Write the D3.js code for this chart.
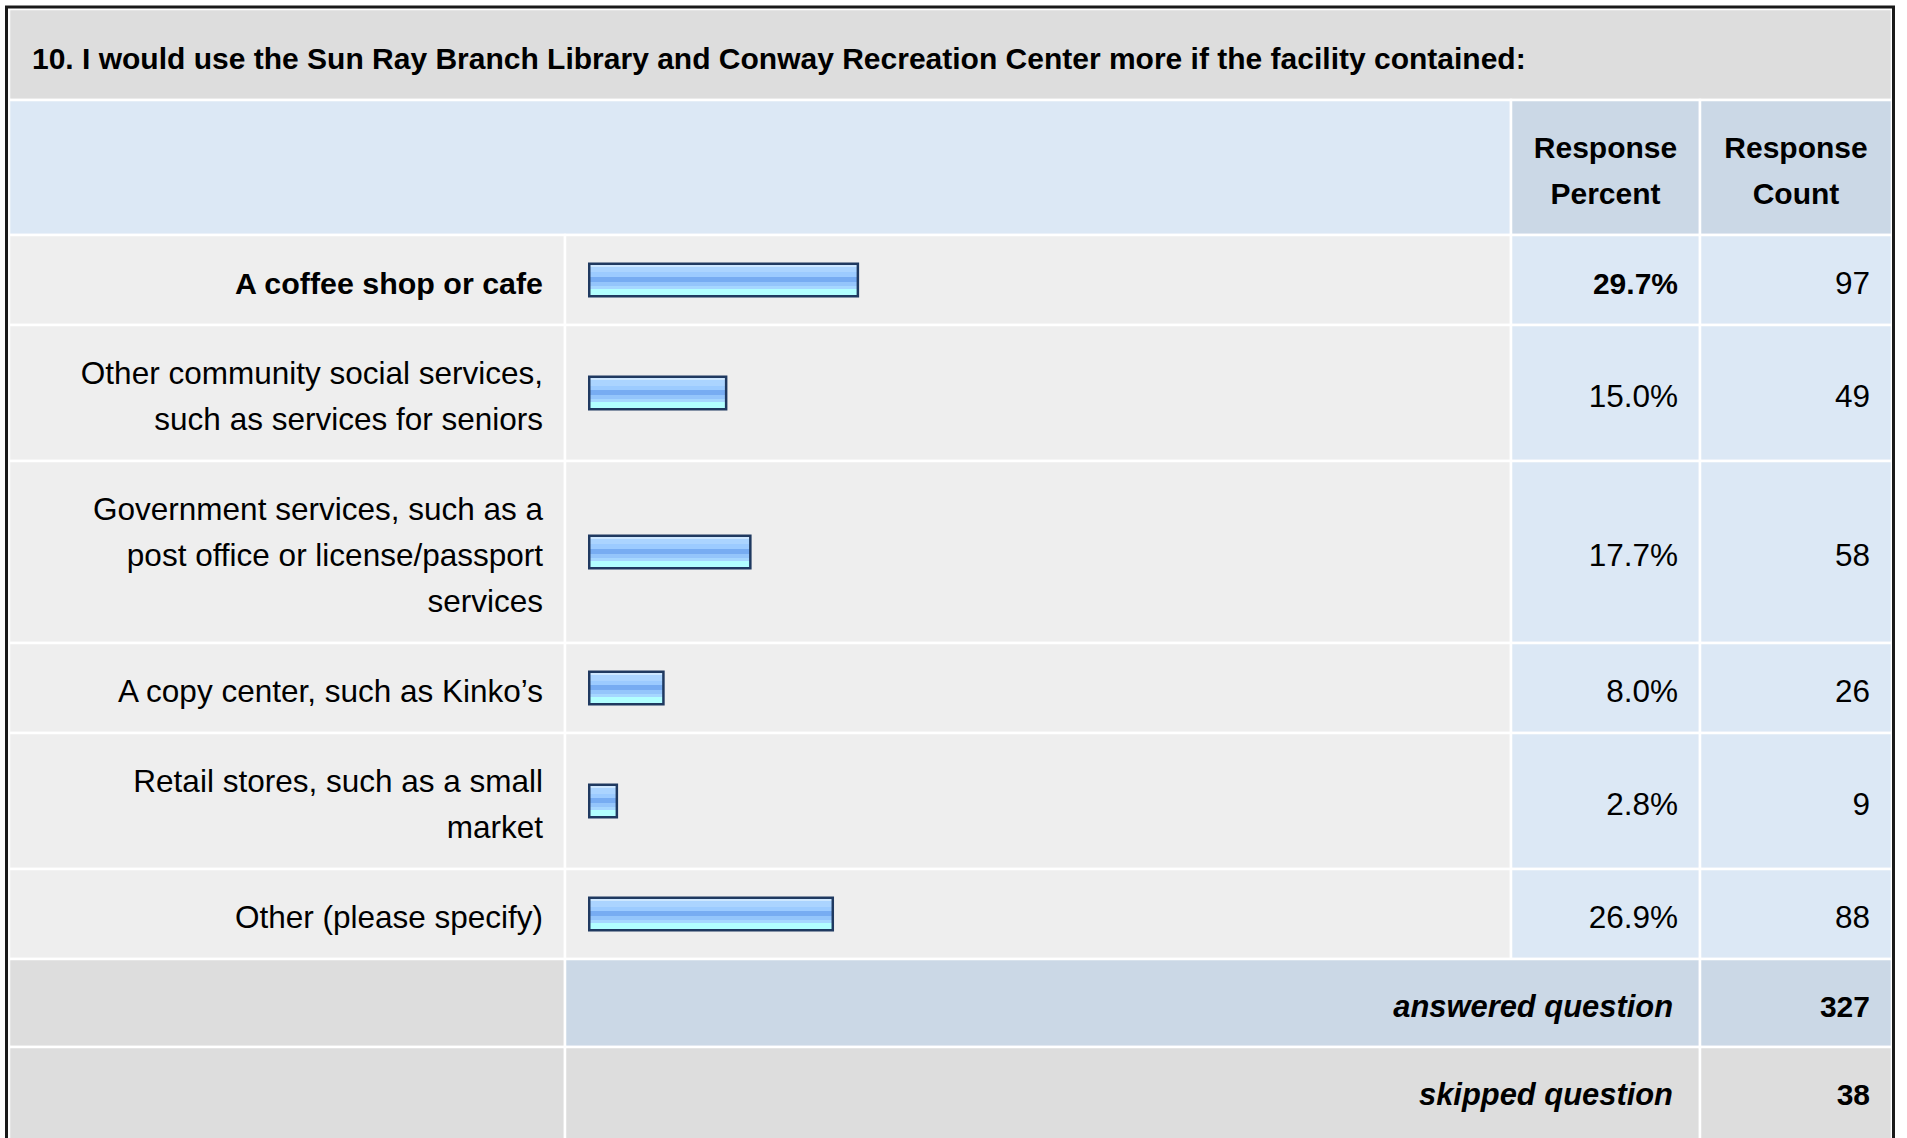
<!DOCTYPE html>
<html>
<head>
<meta charset="utf-8">
<script src="https://cdn.jsdelivr.net/npm/d3@7"></script>
<style>
body { margin: 0; background: #fff; }
svg text { font-family: "Liberation Sans", Arial, Helvetica, sans-serif; fill: #000; }
</style>
</head>
<body>
<svg id="chart" width="1907" height="1138"></svg>
<script>
// Data
var title = "10. I would use the Sun Ray Branch Library and Conway Recreation Center more if the facility contained:";
var headers = ["Response\nPercent", "Response\nCount"];
var categories = [
    "A coffee shop or cafe",
    "Other community social services,\nsuch as services for seniors",
    "Government services, such as a\npost office or license/passport\nservices",
    "A copy center, such as Kinko\u2019s",
    "Retail stores, such as a small\nmarket",
    "Other (please specify)"
];
var percents = [29.7, 15.0, 17.7, 8.0, 2.8, 26.9];
var counts = [97, 49, 58, 26, 9, 88];
var summaryLabels = ["answered question", "skipped question"];
var summaryValues = [327, 38];

// Layout
var W = 1907, H = 1138;
var left = 9, right = 1892;
var colLabel = 565, colBar = 1511, colPct = 1700;
var titleTop = 9, titleBottom = 100, headerBottom = 235;
var lineH = 46;
var rowPad = 44;
var fsBold = 30, fsLabelBold = 30.4, fsReg = 31.5, fsSummary = 30.9;

var svg = d3.select("#chart");

// bar scale: 0..100 %
var x = d3.scaleLinear().domain([0, 100]).range([0, 896]);

init();

function init(){
    setGradient();
    svg.append("rect").attr("x", 0).attr("y", 0).attr("width", W).attr("height", H).attr("fill", "#fff");
    drawTitle();
    drawHeader();
    var y = drawRows(headerBottom);
    drawSummary(y);
    drawBorder();
    return 0;
}

function setGradient(){
    var g = svg.append("defs").append("linearGradient")
        .attr("id", "barFill").attr("x1", 0).attr("y1", 0).attr("x2", 0).attr("y2", 1);
    var stops = [
        [0, "#cde7ff"], [0.08, "#cde7ff"], [0.08, "#abd4ff"], [0.25, "#abd4ff"],
        [0.25, "#9ccbff"], [0.40, "#9ccbff"], [0.40, "#77acf2"], [0.58, "#77acf2"],
        [0.58, "#94c5fb"], [0.70, "#94c5fb"], [0.70, "#a6d7ff"], [0.80, "#a6d7ff"],
        [0.80, "#b2ffff"], [1, "#b2ffff"]
    ];
    g.selectAll("stop").data(stops).enter().append("stop")
        .attr("offset", function(d){ return d[0]; })
        .attr("stop-color", function(d){ return d[1]; });
}

function cell(x0, y0, x1, y1, fill){
    svg.append("rect")
        .attr("x", x0).attr("y", y0)
        .attr("width", x1 - x0).attr("height", y1 - y0)
        .attr("fill", fill)
        .attr("stroke", "#fff").attr("stroke-width", 2.5);
}

function multiText(str, xPos, cy, anchor, weight, size, style){
    var lines = str.split("\n");
    var t = svg.append("text")
        .attr("text-anchor", anchor)
        .attr("font-weight", weight)
        .attr("font-style", style || "normal")
        .attr("font-size", size);
    lines.forEach(function(l, i){
        t.append("tspan")
            .attr("x", xPos)
            .attr("y", cy + 14 - (lines.length - 1) * lineH / 2 + i * lineH)
            .text(l);
    });
    return t;
}

function drawTitle(){
    cell(left, titleTop, right, titleBottom, "#dddddd");
    svg.append("text")
        .attr("x", 32).attr("y", 69)
        .attr("font-weight", "bold").attr("font-size", fsBold)
        .text(title);
}

function drawHeader(){
    cell(left, titleBottom, colBar, headerBottom, "#dce8f5");
    cell(colBar, titleBottom, colPct, headerBottom, "#cbd8e6");
    cell(colPct, titleBottom, right, headerBottom, "#cbd8e6");
    var cy = (titleBottom + headerBottom) / 2 - 1;
    multiText(headers[0], (colBar + colPct) / 2, cy, "middle", "bold", fsBold);
    multiText(headers[1], (colPct + right) / 2, cy, "middle", "bold", fsBold);
}

function drawRows(y0){
    var maxP = d3.max(percents);
    var y = y0;
    categories.forEach(function(c, i){
        var n = c.split("\n").length;
        var h = rowPad + n * lineH;
        var cy = y + h / 2;
        var top = percents[i] === maxP;
        var fw = top ? "bold" : "normal";

        cell(left, y, colLabel, y + h, "#eeeeee");
        cell(colLabel, y, colBar, y + h, "#eeeeee");
        cell(colBar, y, colPct, y + h, "#dce8f5");
        cell(colPct, y, right, y + h, "#dce8f5");

        multiText(c, colLabel - 22, cy, "end", fw, top ? fsLabelBold : fsReg);

        // bar: dark frame then gradient fill
        var bw = x(percents[i]) + 5;
        svg.append("rect")
            .attr("x", 588).attr("y", cy - 17.5)
            .attr("width", bw).attr("height", 35)
            .attr("fill", "#1f3960");
        svg.append("rect")
            .attr("x", 590.5).attr("y", cy - 15)
            .attr("width", bw - 5).attr("height", 30)
            .attr("fill", "url(#barFill)");

        multiText(d3.format(".1f")(percents[i]) + "%", colPct - 22, cy, "end", fw, top ? fsBold : fsReg);
        multiText(String(counts[i]), right - 22, cy, "end", "normal", fsReg);
        y += h;
    });
    return y;
}

function drawSummary(y){
    var h = 88;
    summaryLabels.forEach(function(s, i){
        var fill = i === 0 ? "#cbd8e6" : "#dddddd";
        var yb = (i === 1) ? H + 10 : y + h;
        cell(left, y, colLabel, yb, "#dddddd");
        cell(colLabel, y, colPct, yb, fill);
        cell(colPct, y, right, yb, fill);
        var cy = y + h / 2;
        multiText(s, colPct - 27, cy, "end", "bold", fsSummary, "italic");
        multiText(String(summaryValues[i]), right - 22, cy, "end", "bold", fsBold);
        y += h;
    });
}

function drawBorder(){
    svg.append("rect")
        .attr("x", 6.5).attr("y", 7)
        .attr("width", 1887).attr("height", H + 20)
        .attr("fill", "none")
        .attr("stroke", "#1a1a1a").attr("stroke-width", 3);
}
</script>
</body>
</html>
